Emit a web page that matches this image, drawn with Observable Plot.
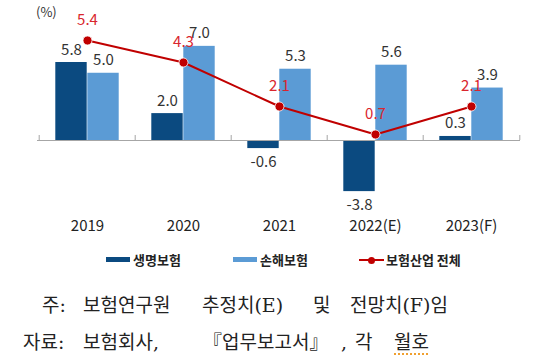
<!DOCTYPE html>
<html>
<head>
<meta charset="utf-8">
<script src="https://cdn.jsdelivr.net/npm/d3@7"></script>
<script src="https://cdn.jsdelivr.net/npm/@observablehq/plot@0.6"></script>
<style>
  html, body { margin: 0; padding: 0; background: #fff; }
  body { width: 541px; height: 364px; overflow: hidden; position: relative; font-family: "Noto Sans CJK KR", "Noto Sans", sans-serif; }
  #chart { position: absolute; left: 0; top: 0; }
  .unit { position: absolute; left: 36px; top: 2px; font-size: 13px; color: #333; }
  .leg { position: absolute; top: 251px; height: 18px; font-size: 13px; font-weight: bold; color: #222; line-height: 18px; white-space: nowrap; }
  .sw { position: absolute; }
  .note { position: absolute; left: 0; width: 541px; height: 24px; font-size: 19px; color: #222; line-height: 24px; font-family: "DejaVu Serif", "Noto Sans CJK KR", serif; }
  .note span { position: absolute; top: 0; white-space: pre; }
  .wavy { text-decoration: underline dotted #f0a030; text-decoration-thickness: 1.5px; text-underline-offset: 4px; }
</style>
</head>
<body>
<div id="chart"></div>
<div class="unit">(%)</div>
<div id="legend"></div>
<div class="note" style="top:293px;"><span style="left:42px">주:</span><span style="left:83px">보험연구원</span><span style="left:202px">추정치(E)</span><span style="left:313px">및</span><span style="left:350px">전망치(F)임</span></div>
<div class="note" style="top:330px;"><span style="left:23px">자료:</span><span style="left:83px">보험회사,</span><span style="left:203px">『업무보고서』</span><span style="left:341px">,</span><span style="left:355px">각</span><span style="left:394px" class="wavy">월호</span></div>
<script>
const years = ["2019", "2020", "2021", "2022(E)", "2023(F)"];
const life = [5.8, 2.0, -0.6, -3.8, 0.3];
const nonlife = [5.0, 7.0, 5.3, 5.6, 3.9];
const total = [5.4, 4.3, 2.1, 0.7, 2.1];
const seriesNames = ["생명보험", "손해보험", "보험산업 전체"];
const colors = ["#0B4A80", "#5B9BD5", "#C00000"];
const labelRed = "#D9262E";

const rows = years.map((y, i) => ({year: y, life: life[i], nonlife: nonlife[i], total: total[i]}));

// secondary axis for the total line (mapped onto the primary y domain)
const yDomain = [-5, 10.41];
const y2 = d3.scaleLinear().domain([-2.9625, 7.4]).range(yDomain);

const W = 541, H = 240;
const bw = (W - 37 - 21) / years.length;
const inner = (bw - 64) / 2;

const chart = Plot.plot({
  width: W,
  height: H,
  marginLeft: 37,
  marginRight: 21,
  marginTop: 0,
  marginBottom: 32.75,
  style: {fontFamily: "'Noto Sans CJK KR', 'Noto Sans', sans-serif", background: "#fff"},
  x: {type: "band", domain: years, padding: 0, label: null},
  y: {domain: yDomain, axis: null},
  marks: [
    Plot.barY(rows, {x: "year", y: "life", fill: colors[0], insetLeft: inner, insetRight: bw - inner - 32}),
    Plot.barY(rows, {x: "year", y: "nonlife", fill: colors[1], insetLeft: inner + 32, insetRight: inner}),
    Plot.ruleY([0], {stroke: "#a6a6a6", strokeWidth: 1}),
    Plot.ruleX(years, {x: d => d, dx: -bw / 2, y1: 0, y2: 5 / 13.45, stroke: "#a6a6a6"}),
    Plot.ruleX([years[years.length - 1]], {x: d => d, dx: bw / 2, y1: 0, y2: 5 / 13.45, stroke: "#a6a6a6"}),
    Plot.axisX({tickSize: 0, tickPadding: 13, fontSize: 15, fill: "#222", label: null}),
    Plot.text(rows.filter(d => d.life >= 0), {x: "year", y: "life", text: d => d.life.toFixed(1), dx: -16, dy: -8, lineAnchor: "bottom", fontSize: 15, fill: "#333"}),
    Plot.text(rows.filter(d => d.life < 0), {x: "year", y: "life", text: d => d.life.toFixed(1), dx: -16, dy: 8, lineAnchor: "top", fontSize: 15, fill: "#333"}),
    Plot.text(rows, {x: "year", y: "nonlife", text: d => d.nonlife.toFixed(1), dx: 16, dy: -8, lineAnchor: "bottom", fontSize: 15, fill: "#333"}),
    Plot.line(rows, {x: "year", y: d => y2(d.total), stroke: colors[2], strokeWidth: 2}),
    Plot.dot(rows, {x: "year", y: d => y2(d.total), r: 4.5, fill: colors[2], stroke: "#fff", strokeWidth: 0.8}),
    Plot.text(rows, {x: "year", y: d => y2(d.total), text: d => d.total.toFixed(1), dy: -20, fontSize: 15, fill: labelRed})
  ]
});
document.getElementById("chart").appendChild(chart);

// legend
const legend = document.getElementById("legend");
const legItems = [
  {x: 106, text: seriesNames[0], kind: "bar", color: colors[0]},
  {x: 233, text: seriesNames[1], kind: "bar", color: colors[1]},
  {x: 359, text: seriesNames[2], kind: "line", color: colors[2]}
];
legItems.forEach(it => {
  const sw = document.createElement("div");
  sw.className = "sw";
  if (it.kind === "bar") {
    Object.assign(sw.style, {left: it.x + "px", top: "257px", width: "24px", height: "5px", background: it.color});
  } else {
    Object.assign(sw.style, {left: it.x + "px", top: "259px", width: "25px", height: "2px", background: it.color});
    const dot = document.createElement("div");
    Object.assign(dot.style, {position: "absolute", left: (it.x + 9) + "px", top: "256.5px", width: "7px", height: "7px", borderRadius: "50%", background: it.color});
    legend.appendChild(dot);
  }
  legend.appendChild(sw);
  const t = document.createElement("div");
  t.className = "leg";
  t.style.left = (it.x + 27) + "px";
  t.textContent = it.text;
  legend.appendChild(t);
});
</script>
</body>
</html>
